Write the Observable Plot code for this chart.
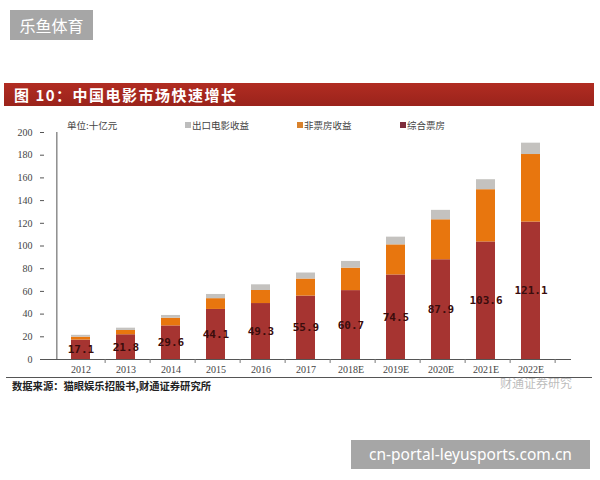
<!DOCTYPE html>
<html>
<head>
<meta charset="utf-8">
<script src="https://cdn.jsdelivr.net/npm/d3@7"></script>
<script src="https://cdn.jsdelivr.net/npm/@observablehq/plot@0.6"></script>
<style>
  html, body { margin: 0; padding: 0; background: #fff; width: 600px; height: 480px; overflow: hidden; position: relative; }
  .abs { position: absolute; white-space: nowrap; }
  #brand { left: 10px; top: 10px; width: 83px; height: 30px; background: #a6a6a6; color: #fff; font: 16px "Noto Sans CJK SC", sans-serif; line-height: 30px; text-align: center; }
  #titlebar { left: 4px; top: 83px; width: 590px; height: 23px; background: linear-gradient(#b12c22, #9a231b); color: #fff; font: bold 15px "Noto Sans CJK SC", sans-serif; line-height: 23px; padding-left: 10px; box-sizing: border-box; letter-spacing: 1.5px; }
  .leg { top: 118px; font: 9.5px "Noto Sans CJK SC", serif; color: #444; line-height: 14px; }
  .sw { display: inline-block; width: 6px; height: 6px; margin-right: 1px; vertical-align: 1px; }
  #chart { left: 0; top: 110px; }
  #rule { left: 6px; top: 377px; width: 586px; height: 1px; background: #555; }
  #source { left: 12px; top: 378px; font: bold 10.3px "Noto Sans CJK SC", serif; color: #222; line-height: 16px; }
  #wm { left: 500px; top: 376px; font: 12px "Noto Sans CJK SC", sans-serif; color: rgba(120,120,120,0.5); line-height: 14px; }
  #site { left: 351px; top: 440px; width: 239px; height: 29px; background: #a6a6a6; color: #fff; font: 15.5px "Noto Sans", sans-serif; line-height: 29px; text-align: center; }
</style>
</head>
<body>
<div id="brand" class="abs">乐鱼体育</div>
<div id="titlebar" class="abs">图 10：中国电影市场快速增长</div>
<div id="legend"></div>
<div id="chart" class="abs"></div>
<div id="rule" class="abs"></div>
<div id="wm" class="abs">财通证券研究</div>
<div id="source" class="abs">数据来源：猫眼娱乐招股书,财通证券研究所</div>
<div id="site" class="abs">cn-portal-leyusports.com.cn</div>
<script>
const years = ["2012","2013","2014","2015","2016","2017","2018E","2019E","2020E","2021E","2022E"];
const boxOffice = [17.1, 21.8, 29.6, 44.1, 49.3, 55.9, 60.7, 74.5, 87.9, 103.6, 121.1];
const nonBoxOffice = [2.6, 3.8, 6.8, 9.5, 11.5, 15.0, 19.8, 26.5, 35.2, 46.0, 59.5];
const exportRevenue = [1.6, 2.0, 2.4, 3.7, 5.0, 5.3, 5.9, 6.8, 8.3, 8.8, 10.0];
const seriesNames = ["综合票房", "非票房收益", "出口电影收益"];
const seriesColors = ["#a63431", "#e8760e", "#c4c2bf"];
const legendColors = ["#7d2c3b", "#d9822c", "#bdbdbd"];
const yTicks = [0, 20, 40, 60, 80, 100, 120, 140, 160, 180, 200];
const unitLabel = "单位:十亿元";

// legend (HTML)
const legend = document.getElementById("legend");
const legItems = [
  {text: unitLabel, left: 67},
  {text: seriesNames[2], color: legendColors[2], left: 185},
  {text: seriesNames[1], color: legendColors[1], left: 297},
  {text: seriesNames[0], color: legendColors[0], left: 400}
];
for (const it of legItems) {
  const d = document.createElement("div");
  d.className = "abs leg";
  d.style.left = it.left + "px";
  d.innerHTML = (it.color ? `<span class="sw" style="background:${it.color}"></span>` : "") + it.text;
  legend.appendChild(d);
}

const rows = [];
years.forEach((y, i) => {
  rows.push({year: y, series: seriesNames[0], value: boxOffice[i]});
  rows.push({year: y, series: seriesNames[1], value: nonBoxOffice[i]});
  rows.push({year: y, series: seriesNames[2], value: exportRevenue[i]});
});
const labels = years.map((y, i) => ({year: y, value: boxOffice[i], mid: boxOffice[i] / 2}));

const width = 600, marginLeft = 40, marginRight = 29;
const step = (width - marginLeft - marginRight) / years.length;

const chart = Plot.plot({
  width: width,
  height: 269,
  marginTop: 22,
  marginBottom: 20,
  marginLeft: marginLeft,
  marginRight: marginRight,
  style: {fontFamily: "'Liberation Serif', 'DejaVu Serif', serif", fontSize: "10px", color: "#444", background: "transparent"},
  x: {domain: years, padding: 0.57, label: null},
  y: {domain: [0, 200], label: null},
  color: {domain: seriesNames, range: seriesColors},
  marks: [
    Plot.barY(rows, {x: "year", y: "value", z: "series", fill: "series", order: null}),
    Plot.text(labels, {x: "year", y: "mid", text: d => d.value.toFixed(1), fill: "#3a0c0c", fontSize: 11, fontFamily: "'DejaVu Sans Mono', monospace", fontWeight: "bold"}),
    Plot.axisY({ticks: yTicks, tickSize: -4, tickPadding: 12, label: null, stroke: "#555", fill: "#444"}),
    Plot.axisX({tickSize: 0, tickPadding: 6, label: null, fill: "#444"}),
    Plot.ruleY([0], {stroke: "#555"}),
    Plot.ruleX([years[0]], {dx: -step / 2, y1: 0, y2: 200, stroke: "#555"}),
    Plot.ruleX(years, {dx: step / 2, y1: 0, y2: -3.5, stroke: "#777"})
  ]
});
document.getElementById("chart").appendChild(chart);
</script>
</body>
</html>
